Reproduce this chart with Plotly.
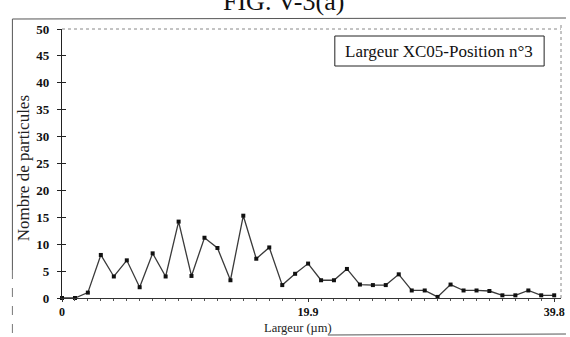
import plotly.graph_objects as go

# Data
largeur = [0.00, 1.05, 2.09, 3.14, 4.19, 5.24, 6.28, 7.33, 8.38, 9.43,
           10.47, 11.52, 12.57, 13.62, 14.66, 15.71, 16.76, 17.81, 18.85, 19.90,
           20.95, 21.99, 23.04, 24.09, 25.14, 26.18, 27.23, 28.28, 29.33, 30.37,
           31.42, 32.47, 33.52, 34.56, 35.61, 36.66, 37.71, 38.75, 39.80]
nombre = [0, 0, 1, 8, 4, 7, 2, 8.3, 4, 14.2,
          4.1, 11.2, 9.3, 3.3, 15.3, 7.3, 9.4, 2.4, 4.5, 6.4,
          3.3, 3.3, 5.4, 2.5, 2.4, 2.4, 4.4, 1.4, 1.4, 0.2,
          2.5, 1.4, 1.4, 1.3, 0.5, 0.5, 1.4, 0.5, 0.5]
x_ticks = [0, 19.9, 39.8]
x_tick_labels = ["0", "19.9", "39.8"]
y_ticks = [0, 5, 10, 15, 20, 25, 30, 35, 40, 45, 50]

W, H = 570, 337
ML, MR, MT, MB = 62, 5, 29, 39
PW, PH = W - ML - MR, H - MT - MB

def px(x):
    return (x - ML) / PW

def py(y):
    return (H - MB - y) / PH

SERIF = "Liberation Serif"

fig = go.Figure()
fig.add_trace(go.Scatter(
    x=largeur, y=nombre, mode="lines+markers",
    line=dict(color="#3a3a3a", width=1.3),
    marker=dict(symbol="square", size=4, color="#111111"),
    showlegend=False, cliponaxis=False,
))
# invisible trace to carry inside ticks on second y axis
fig.add_trace(go.Scatter(x=[0], y=[0], yaxis="y2", mode="markers",
                         marker=dict(opacity=0), showlegend=False, hoverinfo="skip"))

fig.update_layout(
    width=W, height=H,
    margin=dict(l=ML, r=MR, t=MT, b=MB),
    paper_bgcolor="white", plot_bgcolor="white",
    font=dict(family=SERIF, color="#111111"),
    xaxis=dict(
        range=[0, 40.35], showgrid=False, zeroline=False,
        showline=True, linecolor="#333333", linewidth=1,
        tickmode="array", tickvals=x_ticks, ticktext=x_tick_labels,
        ticks="outside", ticklen=3, tickcolor="#333333",
        ticklabelstandoff=0,
        tickfont=dict(size=12, family=SERIF, weight="bold"),
        minor=dict(tickmode="array", tickvals=largeur, ticks="outside",
                   ticklen=2, tickcolor="#555555"),
    ),
    yaxis=dict(
        range=[0, 50], showgrid=False, zeroline=False,
        showline=True, linecolor="#222222", linewidth=1.2,
        tickmode="array", tickvals=y_ticks,
        ticks="outside", ticklen=4, tickcolor="#222222",
        ticklabelstandoff=5,
        tickfont=dict(size=13, family=SERIF, weight="bold"),
    ),
    yaxis2=dict(
        range=[0, 50], overlaying="y", side="left", anchor="x",
        showgrid=False, zeroline=False, showline=False,
        tickmode="array", tickvals=y_ticks, showticklabels=False,
        ticks="inside", ticklen=4, tickcolor="#222222",
    ),
)

shapes = [
    # dotted plot-area borders (top, right)
    dict(type="line", xref="paper", yref="paper", x0=0, x1=1, y0=1, y1=1,
         line=dict(color="#888888", width=1, dash="dot")),
    dict(type="line", xref="paper", yref="paper", x0=1, x1=1, y0=0, y1=1.02,
         line=dict(color="#888888", width=1, dash="dot")),
    # outer frame lines
    dict(type="line", xref="paper", yref="paper", x0=px(12), x1=px(570), y0=py(19), y1=py(18),
         line=dict(color="#555555", width=1)),
    dict(type="line", xref="paper", yref="paper", x0=px(12), x1=px(12), y0=py(19), y1=py(270),
         line=dict(color="#555555", width=1)),
    dict(type="line", xref="paper", yref="paper", x0=px(12), x1=px(12), y0=py(270), y1=py(337),
         line=dict(color="#777777", width=1, dash="dash")),
    dict(type="line", xref="paper", yref="paper", x0=px(330), x1=px(570), y0=py(335), y1=py(334),
         line=dict(color="#555555", width=1)),
    # label box
    dict(type="rect", xref="paper", yref="paper", x0=px(337), x1=px(548), y0=py(66), y1=py(36),
         line=dict(color="#222222", width=1), fillcolor="white"),
]
fig.update_layout(shapes=shapes)

annotations = [
    dict(text="Largeur XC05-Position n°3", xref="paper", yref="paper",
         x=px(442.5), y=py(51), xanchor="center", yanchor="middle", showarrow=False,
         font=dict(family=SERIF, size=17, color="#111111")),
    dict(text="Nombre de particules", xref="paper", yref="paper",
         x=px(23), y=py(168), xanchor="center", yanchor="middle", showarrow=False,
         textangle=-90, font=dict(family=SERIF, size=17, color="#222222")),
    dict(text="Largeur (µm)", xref="paper", yref="paper",
         x=px(300), y=py(328), xanchor="center", yanchor="middle", showarrow=False,
         font=dict(family=SERIF, size=12.5, color="#222222")),
    dict(text="FIG. V-3(a)", xref="paper", yref="paper",
         x=px(285), y=py(18), xanchor="center", yanchor="bottom", showarrow=False,
         font=dict(family=SERIF, size=26, color="#111111")),
]
fig.update_layout(annotations=annotations)

fig.write_html("out.html", config={"displayModeBar": False},
               post_script="document.body.style.margin='0';")
